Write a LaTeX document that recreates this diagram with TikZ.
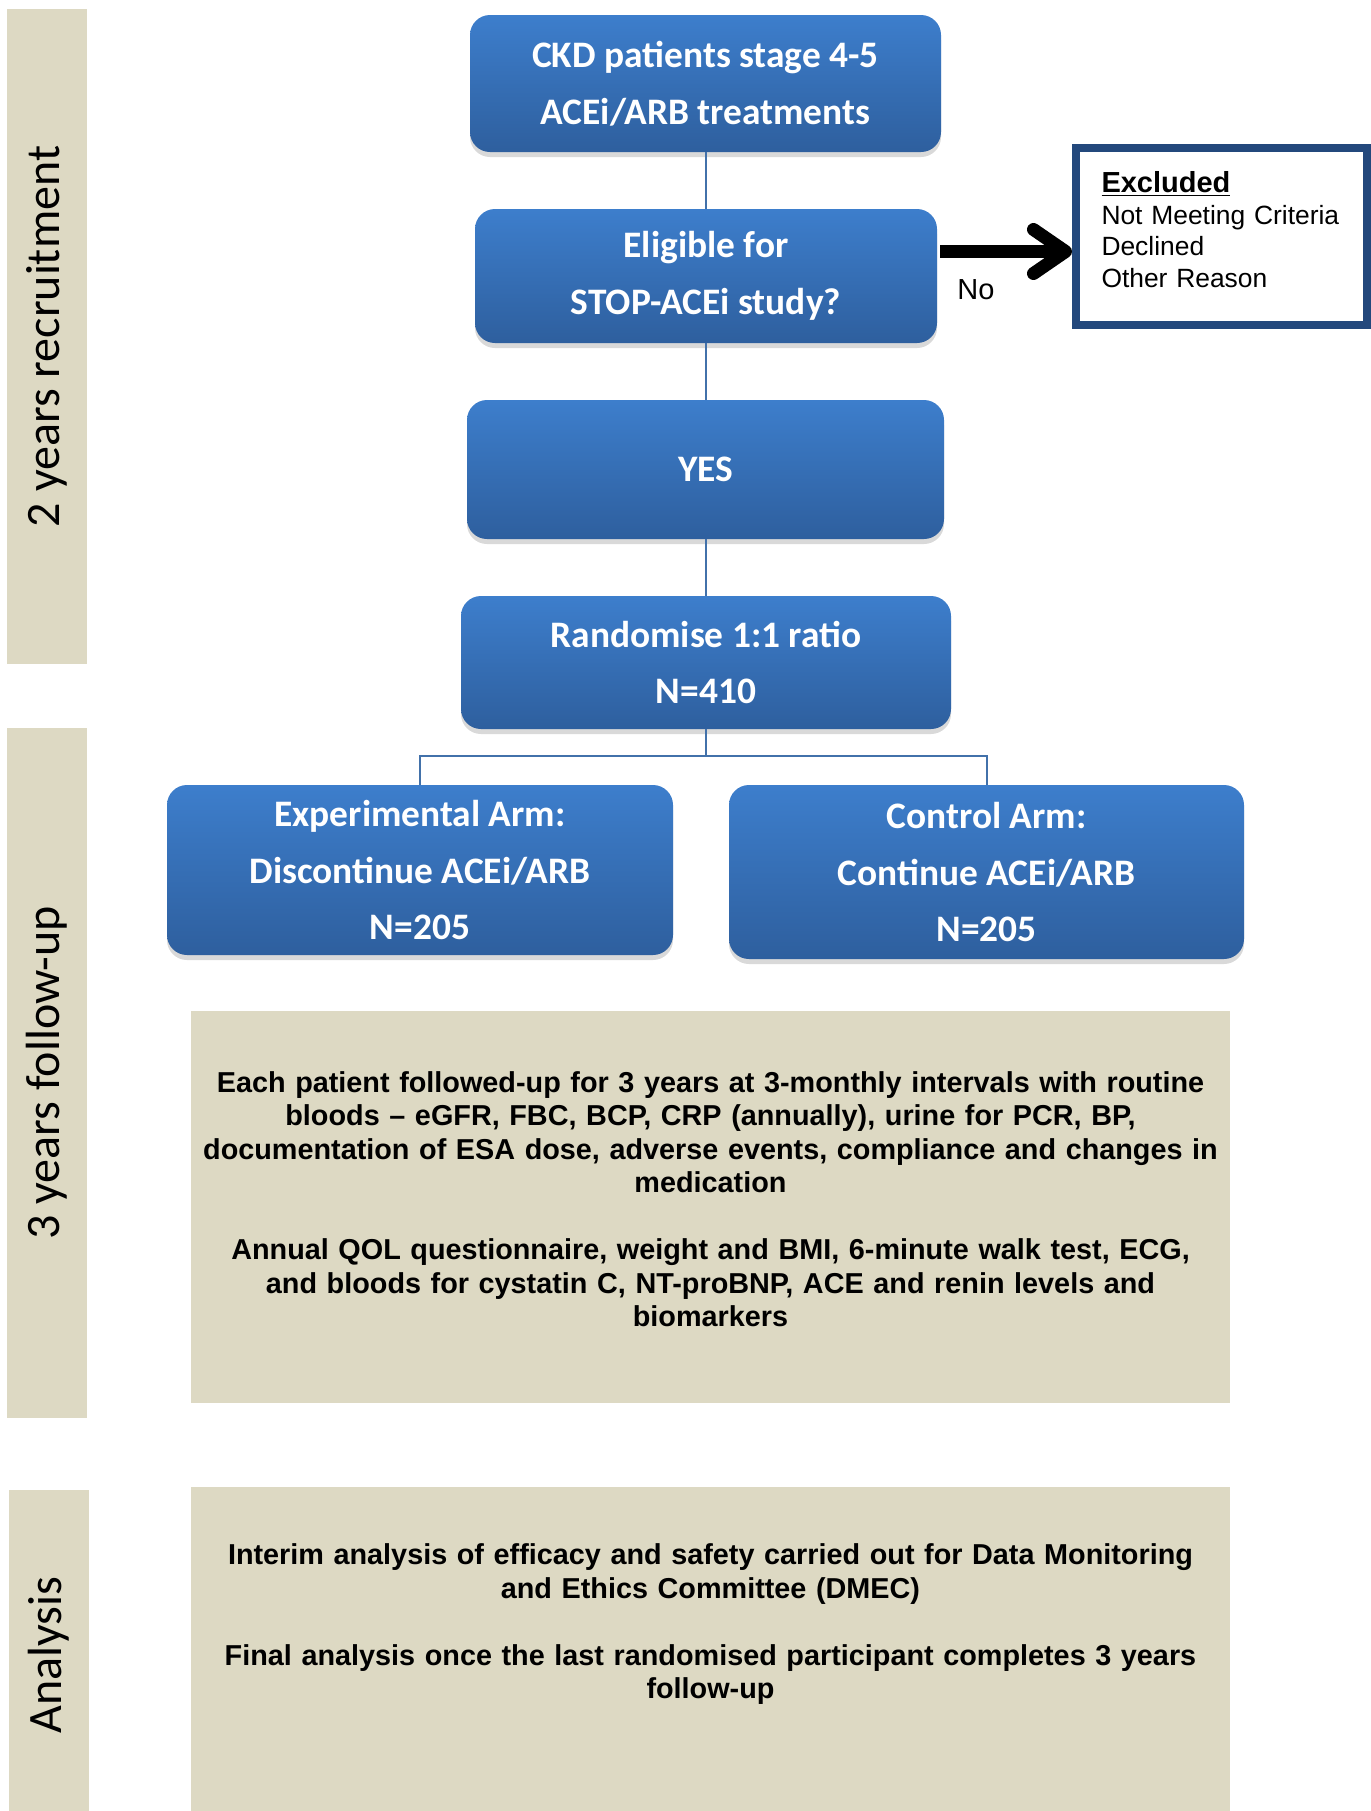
\documentclass[tikz,border=0pt]{standalone}
\usepackage{fontspec}
\setmainfont{Liberation Sans}
\newfontfamily\calibri{Carlito}
\usetikzlibrary{arrows.meta,shadows}
\definecolor{panelbg}{RGB}{221,217,195}
\definecolor{boxtop}{RGB}{61,126,204}
\definecolor{boxbot}{RGB}{46,95,158}
\definecolor{linkblue}{RGB}{66,113,170}
\definecolor{exborder}{RGB}{35,72,124}
\tikzset{
  stepbox/.style={rounded corners=10pt,top color=boxtop,bottom color=boxbot,text=white,align=center,font=\calibri\bfseries\fontsize{18.7}{28.3}\selectfont,inner sep=2pt,drop shadow={opacity=0.3,shadow xshift=0pt,shadow yshift=-2.5pt}},
  period/.style={fill=panelbg,rotate=90,minimum height=40pt,inner sep=0pt,font=\calibri\fontsize{24}{28}\selectfont},
  paneltext/.style={text width=530pt,align=center,font=\bfseries\fontsize{14.4}{16.75}\selectfont},
  exclbox/.style={draw=exborder,line width=4pt,fill=white,minimum width=145.5pt,minimum height=88.5pt},
  excltext/.style={text width=120pt,align=left,inner sep=0pt,font=\fontsize{13.2}{15.8}\selectfont},
  link/.style={draw=linkblue,line width=1pt},
  noarrow/.style={-{Straight Barb[round,length=16pt,width=22pt]},line width=6.5pt}
}
\begin{document}
\begin{tikzpicture}[x=0.5pt,y=-0.5pt]
\useasboundingbox (0,0) rectangle (1371,1811);
% time line on the left
\node[period,minimum width=327.5pt] (recruit) at (47,336.5) {2 years recruitment};
\node[period,minimum width=345pt] (follow) at (47,1073) {3 years follow-up};
\node[period,minimum width=165pt] (analyse) at (48.5,1655) {Analysis};

% flow
\node[stepbox,minimum width=235.5pt,minimum height=68.5pt] (ckd) at (705.5,83.5) {CKD patients stage 4-5\\ACEi/ARB treatments};
\node[stepbox,minimum width=231pt,minimum height=67pt] (elig) at (706,276) {Eligible for\\STOP-ACEi study?};
\node[stepbox,minimum width=238.5pt,minimum height=69.5pt] (yes) at (705.5,469.5) {YES};
\node[stepbox,minimum width=245pt,minimum height=66.5pt] (rand) at (706,662.5) {Randomise 1:1 ratio\\N=410};
\node[stepbox,minimum width=253pt,minimum height=85pt] (exp) at (420,870) {Experimental Arm:\\Discontinue ACEi/ARB\\N=205};
\node[stepbox,minimum width=257.5pt,minimum height=87pt] (ctrl) at (986.5,872) {Control Arm:\\Continue ACEi/ARB\\N=205};

% excluded
\node[exclbox] (excl) at (1221.5,236.5) {};
\node[excltext] (excltext) at ([yshift=3.5pt]excl.center) {{\fontsize{14.5}{15.8}\selectfont\bfseries\underline{Excluded}}\\Not Meeting Criteria\\Declined\\Other Reason};
\node[font=\fontsize{14.5}{16}\selectfont] (no) at (976,290) {No};

\coordinate (fork) at (706,756);
\draw[link] (ckd.south) -- (ckd.south |- elig.north);
\draw[link] (elig.south) -- (elig.south |- yes.north);
\draw[link] (yes.south) -- (yes.south |- rand.north);
\draw[link] (rand.south) -- (fork);
\draw[link] (exp.north) |- (fork) -| (ctrl.north);
\draw[noarrow,shorten <=1.5pt] ([yshift=12.25pt]elig.east) -- ([yshift=-7.5pt]excl.west);

% panels
\fill[panelbg] (191,1011) rectangle (1230,1403);
\node[paneltext] (followtext) at (710.5,1199) {Each patient followed-up for 3 years at 3-monthly intervals with routine\\bloods -- eGFR, FBC, BCP, CRP (annually), urine for PCR, BP,\\documentation of ESA dose, adverse events, compliance and changes in\\medication\\[16.75pt]Annual QOL questionnaire, weight and BMI, 6-minute walk test, ECG,\\and bloods for cystatin C, NT-proBNP, ACE and renin levels and\\biomarkers};
\fill[panelbg] (191,1487) rectangle (1230,1830);
\node[paneltext] (analysetext) at (710.5,1624.5) {Interim analysis of efficacy and safety carried out for Data Monitoring\\and Ethics Committee (DMEC)\\[16.75pt]Final analysis once the last randomised participant completes 3 years\\follow-up};
\end{tikzpicture}
\end{document}
